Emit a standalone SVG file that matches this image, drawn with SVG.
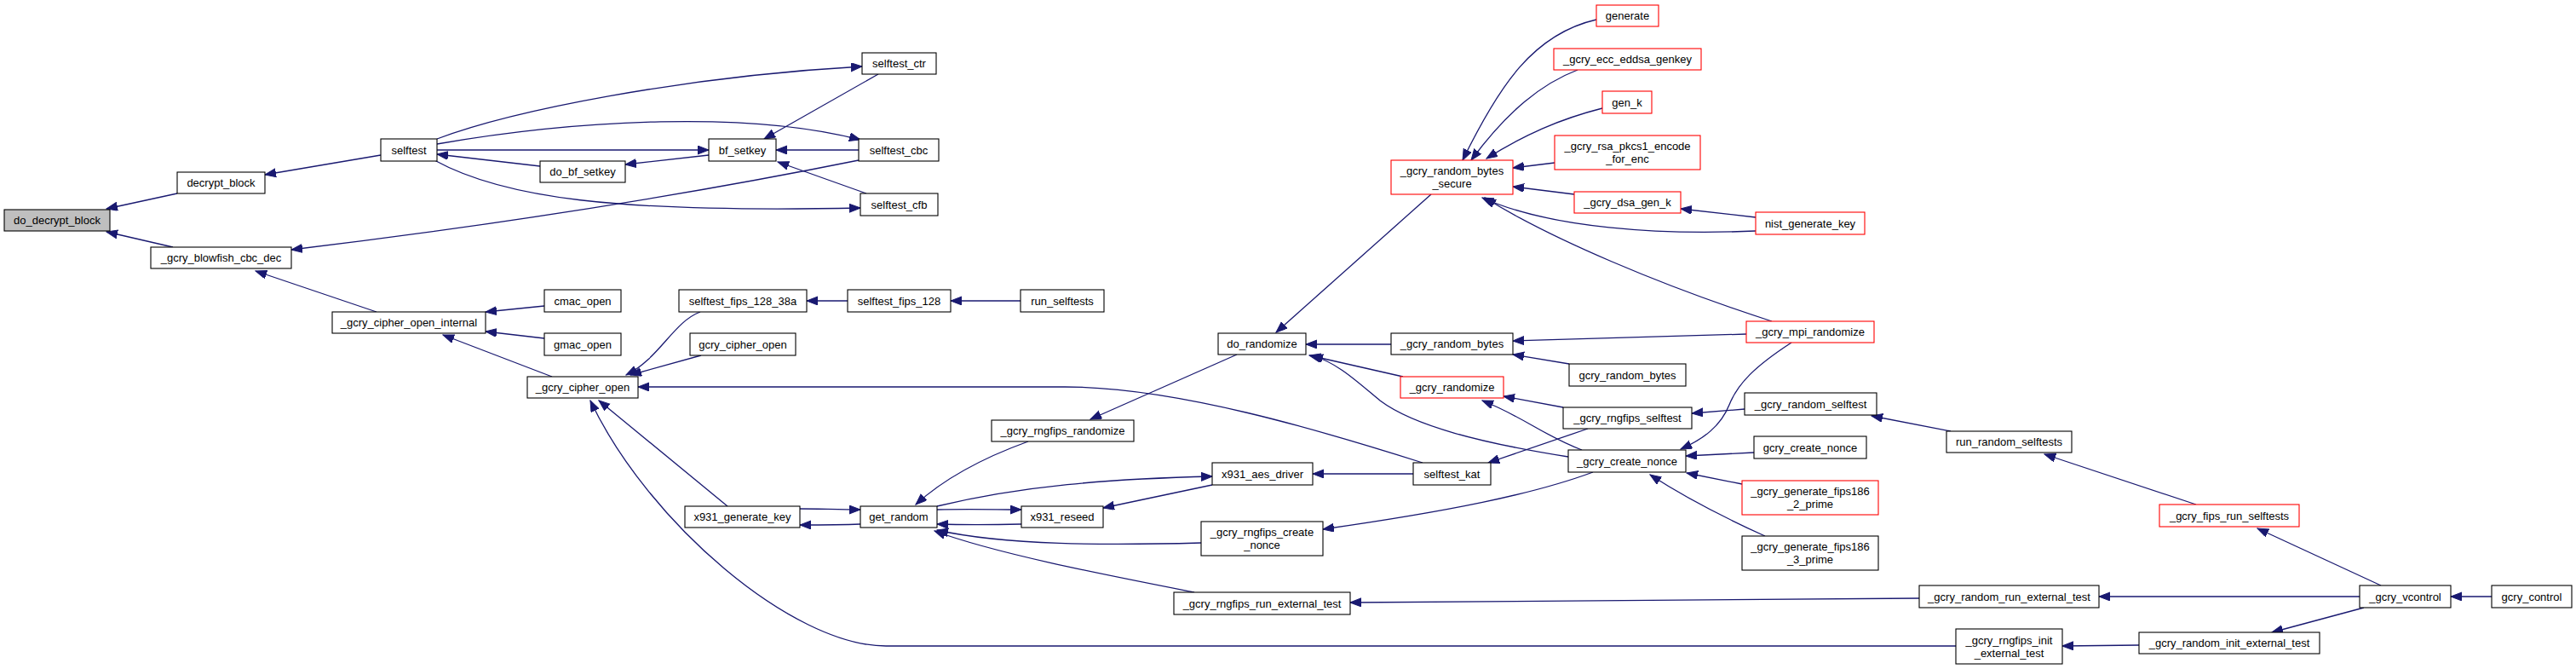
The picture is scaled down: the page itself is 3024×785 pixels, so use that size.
<svg xmlns="http://www.w3.org/2000/svg" width="3024" height="785" viewBox="0 0 3024 785">
<style>
.n rect{fill:#fff;stroke:#000;stroke-width:1.1}
.n.r rect{stroke:#ff0000}
.n.root rect{fill:#bfbfbf}
.n text{font-family:"Liberation Sans",Arial,sans-serif;font-size:13px;fill:#000;text-anchor:middle}
#edges path{fill:none;stroke:#191970;stroke-width:1.3;marker-end:url(#ah)}
</style>
<defs>
<marker id="ah" markerUnits="userSpaceOnUse" markerWidth="14" markerHeight="11" refX="13" refY="5" orient="auto">
<path d="M0,0 L13,5 L0,10 z" fill="#191970" stroke="#191970" stroke-width="1"/>
</marker>
</defs>
<rect width="3024" height="785" fill="#fff"/>
<g id="edges">
<path d="M208,227 L125,245"/>
<path d="M203,290 L125,272"/>
<path d="M447,182 L311,205"/>
<path d="M1008,188 Q700,250 342,293"/>
<path d="M442,366 L300,318"/>
<path d="M513,163 C600,130 800,90 1012,78"/>
<path d="M1031,87 L897,163"/>
<path d="M513,169 C680,140 880,130 1010,164"/>
<path d="M513,176 L832,176"/>
<path d="M1008,176 L911,176"/>
<path d="M634,195 L513,181"/>
<path d="M832,182 L734,193"/>
<path d="M1017,227 L913,190"/>
<path d="M510,188 C590,232 720,250 1010,244"/>
<path d="M639,359 L570,366"/>
<path d="M639,397 L570,389"/>
<path d="M648,442 L520,393"/>
<path d="M822,366 C790,378 775,420 735,440"/>
<path d="M823,417 L740,440"/>
<path d="M1670,543 C1550,505 1380,454 1250,454 L749,454"/>
<path d="M854,594 L703,470"/>
<path d="M2296,758 L1040,758 C930,758 760,612 693,470"/>
<path d="M995,353 L947,353"/>
<path d="M1198,353 L1116,353"/>
<path d="M939,597 C960,597 985,598 1010,598"/>
<path d="M1010,615 C985,616 960,616 939,616"/>
<path d="M1207,518 C1160,535 1110,560 1075,592"/>
<path d="M1100,594 C1200,570 1300,562 1423,559"/>
<path d="M1100,598 C1140,597 1170,598 1199,598"/>
<path d="M1199,615 C1160,616 1130,616 1100,615"/>
<path d="M1423,569 L1295,596"/>
<path d="M1410,637 C1300,640 1180,640 1100,622"/>
<path d="M1402,695 C1300,675 1170,650 1097,623"/>
<path d="M1452,416 L1280,492"/>
<path d="M1659,556 L1541,556"/>
<path d="M1680,228 L1498,390"/>
<path d="M1633,404 L1533,404"/>
<path d="M1647,442 L1537,417"/>
<path d="M1841,536 C1740,520 1660,500 1620,470 C1590,445 1570,426 1540,417"/>
<path d="M1874,23 C1800,40 1760,100 1717,188"/>
<path d="M1852,82 C1810,98 1770,130 1727,188"/>
<path d="M1881,127 C1830,140 1790,158 1745,186"/>
<path d="M1825,191 L1776,197"/>
<path d="M1848,228 L1776,219"/>
<path d="M2061,271 C1950,276 1820,268 1740,232"/>
<path d="M2061,255 L1973,245"/>
<path d="M2080,377 C1950,335 1820,280 1743,232"/>
<path d="M2050,392 L1776,400"/>
<path d="M1842,427 L1776,416"/>
<path d="M1835,478 L1765,465"/>
<path d="M1857,528 C1810,510 1790,490 1740,470"/>
<path d="M1864,503 L1747,543"/>
<path d="M1870,554 C1800,580 1700,600 1553,621"/>
<path d="M2253,702 L1585,707"/>
<path d="M2103,402 C2060,430 2040,450 2030,475 C2020,500 2000,515 1973,527"/>
<path d="M2048,480 L1986,485"/>
<path d="M2059,531 L1979,535"/>
<path d="M2045,568 L1980,555"/>
<path d="M2072,629 C2030,610 1980,585 1937,557"/>
<path d="M2290,506 L2197,488"/>
<path d="M2578,592 L2400,533"/>
<path d="M2795,687 L2650,620"/>
<path d="M2770,700 L2464,700"/>
<path d="M2925,700 L2877,700"/>
<path d="M2775,713 L2667,742"/>
<path d="M2511,757 L2421,758"/>
</g>
<g id="n1" class="n root"><rect x="5" y="246" width="124" height="25"/><text x="67" y="263">do_decrypt_block</text></g>
<g id="n2" class="n"><rect x="208" y="202" width="103" height="25"/><text x="259.5" y="219">decrypt_block</text></g>
<g id="n3" class="n"><rect x="177" y="290" width="165" height="25"/><text x="259.5" y="307">_gcry_blowfish_cbc_dec</text></g>
<g id="n4" class="n"><rect x="447" y="163" width="66" height="26"/><text x="480" y="180.5">selftest</text></g>
<g id="n5" class="n"><rect x="390" y="366" width="180" height="25"/><text x="480" y="383">_gcry_cipher_open_internal</text></g>
<g id="n6" class="n"><rect x="832" y="163" width="79" height="26"/><text x="871.5" y="180.5">bf_setkey</text></g>
<g id="n7" class="n"><rect x="634" y="189" width="100" height="25"/><text x="684" y="206">do_bf_setkey</text></g>
<g id="n8" class="n"><rect x="639" y="340" width="90" height="26"/><text x="684" y="357.5">cmac_open</text></g>
<g id="n9" class="n"><rect x="639" y="391" width="90" height="26"/><text x="684" y="408.5">gmac_open</text></g>
<g id="n10" class="n"><rect x="797" y="340" width="150" height="26"/><text x="872" y="357.5">selftest_fips_128_38a</text></g>
<g id="n11" class="n"><rect x="810" y="391" width="124" height="26"/><text x="872" y="408.5">gcry_cipher_open</text></g>
<g id="n12" class="n"><rect x="619" y="442" width="130" height="25"/><text x="684" y="459">_gcry_cipher_open</text></g>
<g id="n13" class="n"><rect x="804" y="594" width="135" height="25"/><text x="871.5" y="611">x931_generate_key</text></g>
<g id="n14" class="n"><rect x="1012" y="62" width="87" height="25"/><text x="1055.5" y="79">selftest_ctr</text></g>
<g id="n15" class="n"><rect x="1008" y="163" width="94" height="26"/><text x="1055" y="180.5">selftest_cbc</text></g>
<g id="n16" class="n"><rect x="1010" y="227" width="91" height="26"/><text x="1055.5" y="244.5">selftest_cfb</text></g>
<g id="n17" class="n"><rect x="995" y="340" width="121" height="26"/><text x="1055.5" y="357.5">selftest_fips_128</text></g>
<g id="n18" class="n"><rect x="1198" y="340" width="98" height="26"/><text x="1247" y="357.5">run_selftests</text></g>
<g id="n19" class="n"><rect x="1430" y="391" width="103" height="25"/><text x="1481.5" y="408">do_randomize</text></g>
<g id="n20" class="n"><rect x="1164" y="493" width="167" height="25"/><text x="1247.5" y="510">_gcry_rngfips_randomize</text></g>
<g id="n21" class="n"><rect x="1423" y="543" width="118" height="26"/><text x="1482" y="560.5">x931_aes_driver</text></g>
<g id="n22" class="n"><rect x="1010" y="594" width="90" height="25"/><text x="1055" y="611">get_random</text></g>
<g id="n23" class="n"><rect x="1199" y="594" width="96" height="25"/><text x="1247" y="611">x931_reseed</text></g>
<g id="n24" class="n"><rect x="1410" y="612" width="143" height="40"/><text x="1481.5" y="629">_gcry_rngfips_create</text><text x="1481.5" y="644">_nonce</text></g>
<g id="n25" class="n"><rect x="1378" y="695" width="207" height="26"/><text x="1481.5" y="712.5">_gcry_rngfips_run_external_test</text></g>
<g id="n26" class="n r"><rect x="1874" y="6" width="73" height="25"/><text x="1910.5" y="23">generate</text></g>
<g id="n27" class="n r"><rect x="1824" y="57" width="173" height="25"/><text x="1910.5" y="74">_gcry_ecc_eddsa_genkey</text></g>
<g id="n28" class="n r"><rect x="1881" y="107" width="58" height="26"/><text x="1910" y="124.5">gen_k</text></g>
<g id="n29" class="n r"><rect x="1825" y="159" width="171" height="40"/><text x="1910.5" y="176">_gcry_rsa_pkcs1_encode</text><text x="1910.5" y="191">_for_enc</text></g>
<g id="n30" class="n r"><rect x="1633" y="188" width="143" height="40"/><text x="1704.5" y="205">_gcry_random_bytes</text><text x="1704.5" y="220">_secure</text></g>
<g id="n31" class="n r"><rect x="1848" y="225" width="125" height="25"/><text x="1910.5" y="242">_gcry_dsa_gen_k</text></g>
<g id="n32" class="n r"><rect x="2061" y="249" width="128" height="26"/><text x="2125" y="266.5">nist_generate_key</text></g>
<g id="n33" class="n r"><rect x="2050" y="377" width="150" height="25"/><text x="2125" y="394">_gcry_mpi_randomize</text></g>
<g id="n34" class="n"><rect x="1633" y="391" width="143" height="25"/><text x="1704.5" y="408">_gcry_random_bytes</text></g>
<g id="n35" class="n"><rect x="1842" y="427" width="137" height="26"/><text x="1910.5" y="444.5">gcry_random_bytes</text></g>
<g id="n36" class="n r"><rect x="1644" y="442" width="121" height="25"/><text x="1704.5" y="459">_gcry_randomize</text></g>
<g id="n37" class="n"><rect x="1835" y="478" width="151" height="25"/><text x="1910.5" y="495">_gcry_rngfips_selftest</text></g>
<g id="n38" class="n"><rect x="1841" y="528" width="138" height="26"/><text x="1910" y="545.5">_gcry_create_nonce</text></g>
<g id="n39" class="n"><rect x="1659" y="543" width="91" height="26"/><text x="1704.5" y="560.5">selftest_kat</text></g>
<g id="n40" class="n"><rect x="2048" y="461" width="155" height="26"/><text x="2125.5" y="478.5">_gcry_random_selftest</text></g>
<g id="n41" class="n"><rect x="2059" y="512" width="132" height="26"/><text x="2125" y="529.5">gcry_create_nonce</text></g>
<g id="n42" class="n r"><rect x="2045" y="564" width="160" height="40"/><text x="2125" y="581">_gcry_generate_fips186</text><text x="2125" y="596">_2_prime</text></g>
<g id="n43" class="n"><rect x="2045" y="629" width="160" height="40"/><text x="2125" y="646">_gcry_generate_fips186</text><text x="2125" y="661">_3_prime</text></g>
<g id="n44" class="n"><rect x="2285" y="506" width="147" height="25"/><text x="2358.5" y="523">run_random_selftests</text></g>
<g id="n45" class="n"><rect x="2253" y="687" width="211" height="26"/><text x="2358.5" y="704.5">_gcry_random_run_external_test</text></g>
<g id="n46" class="n"><rect x="2296" y="738" width="125" height="41"/><text x="2358.5" y="755.5">_gcry_rngfips_init</text><text x="2358.5" y="770.5">_external_test</text></g>
<g id="n47" class="n r"><rect x="2535" y="592" width="164" height="26"/><text x="2617" y="609.5">_gcry_fips_run_selftests</text></g>
<g id="n48" class="n"><rect x="2770" y="687" width="107" height="26"/><text x="2823.5" y="704.5">_gcry_vcontrol</text></g>
<g id="n49" class="n"><rect x="2925" y="687" width="94" height="26"/><text x="2972" y="704.5">gcry_control</text></g>
<g id="n50" class="n"><rect x="2511" y="742" width="212" height="25"/><text x="2617" y="759">_gcry_random_init_external_test</text></g>
</svg>
